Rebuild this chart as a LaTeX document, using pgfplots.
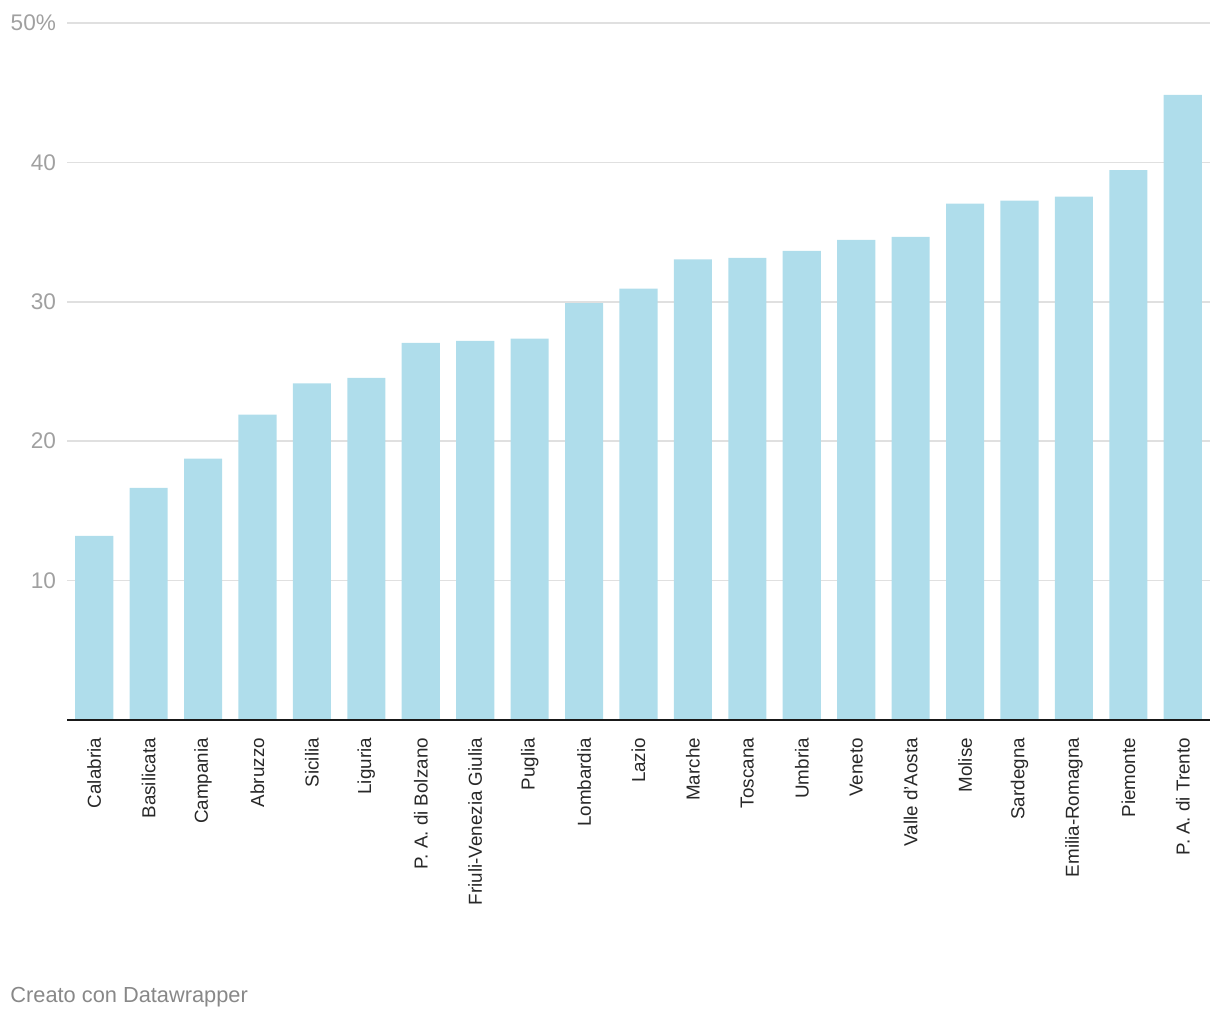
\documentclass[border=0pt]{standalone}
\usepackage{fontspec}
\setmainfont{Liberation Sans}
\usepackage{pgfplots}
\pgfplotsset{compat=1.18}
\definecolor{barblue}{RGB}{175,221,235}
\definecolor{ticgray}{RGB}{160,160,160}
\definecolor{gridgray}{RGB}{224,224,224}
\definecolor{labdark}{RGB}{40,40,40}
\definecolor{footgray}{RGB}{136,136,136}
\begin{document}
\begin{tikzpicture}
\path[use as bounding box] (0,0) rectangle (610pt,510pt);
\begin{axis}[
  at={(33.5pt,150pt)}, anchor=south west,
  scale only axis, width=571.5pt, height=348.5pt,
  xmin=-0.5, xmax=20.5, ymin=0, ymax=50,
  axis line style={draw=none},
  major tick length=0pt,
  ytick={10,20,30,40,50},
  yticklabels={10,20,30,40,50\%},
  yticklabel style={text=ticgray, font=\fontsize{11.3}{13}\selectfont, anchor=east, xshift=-2pt},
  ymajorgrids,
  grid style={color=gridgray, line width=0.75pt},
  xtick={0,...,20},
  xticklabels={Calabria,Basilicata,Campania,Abruzzo,Sicilia,Liguria,P. A. di Bolzano,Friuli-Venezia Giulia,Puglia,Lombardia,Lazio,Marche,Toscana,Umbria,Veneto,Valle d'Aosta,Molise,Sardegna,Emilia-Romagna,Piemonte,P. A. di Trento},
  xticklabel style={rotate=90, anchor=east, text=labdark, font=\fontsize{9.4}{11}\selectfont, xshift=-5.5pt},
  /pgf/number format/assume math mode=true,
  ybar, bar width=0.7,
  clip=false,
]
\addplot[fill=barblue, draw=none] coordinates {
  (0,13.2) (1,16.65) (2,18.75) (3,21.9) (4,24.15) (5,24.55) (6,27.05) (7,27.2) (8,27.35) (9,29.9) (10,30.95) (11,33.05) (12,33.15) (13,33.65) (14,34.45) (15,34.65) (16,37.05) (17,37.25) (18,37.55) (19,39.45) (20,44.85)
};
\draw[black!90, line width=1pt] (axis cs:-0.5,0) -- (axis cs:20.5,0);
\end{axis}
\node[anchor=base west, text=footgray, font=\fontsize{10.9}{13}\selectfont, inner sep=0pt] at (5pt,8.5pt) {Creato con Datawrapper};
\end{tikzpicture}
\end{document}
